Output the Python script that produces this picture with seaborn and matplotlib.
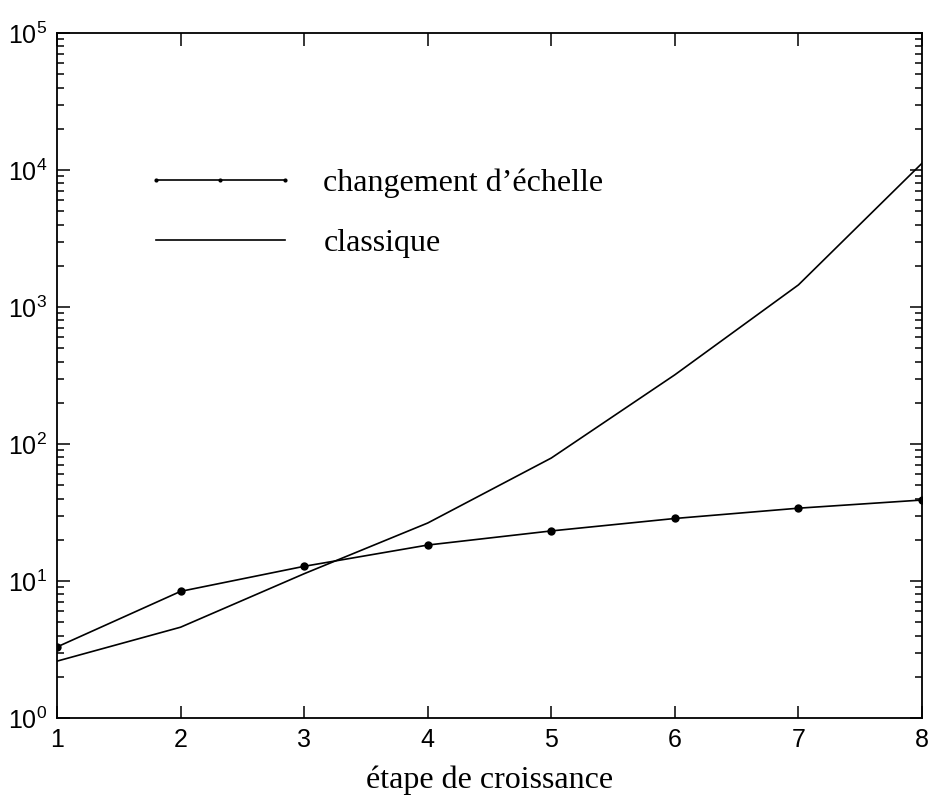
import numpy as np
import pandas as pd
import matplotlib
matplotlib.use("Agg")
import matplotlib.pyplot as plt
import matplotlib.ticker as mticker
import seaborn as sns

etapes = [1, 2, 3, 4, 5, 6, 7, 8]
changement = [3.3, 8.4, 12.8, 18.3, 23.2, 28.6, 34.0, 39.0]
classique = [2.6, 4.6, 11.3, 26.5, 79.0, 320.0, 1450.0, 11200.0]
label_changement = "changement d\u2019échelle"
label_classique = "classique"
xlabel = "étape de croissance"

plt.rcParams["mathtext.fontset"] = "custom"
plt.rcParams["mathtext.rm"] = "Liberation Sans"
plt.rcParams["mathtext.it"] = "Liberation Sans"
plt.rcParams["mathtext.bf"] = "Liberation Sans"

fig = plt.figure(figsize=(9.3, 8.01), dpi=100)
ax_w = 865
ax = fig.add_axes([57 / 930, 83 / 801, ax_w / 930, 685 / 801])

df1 = pd.DataFrame({"x": etapes, "y": changement})
df2 = pd.DataFrame({"x": etapes, "y": classique})
sns.lineplot(data=df1, x="x", y="y", ax=ax, color="black", lw=1.2,
             marker="o", markersize=6, markeredgewidth=0, label=label_changement)
sns.lineplot(data=df2, x="x", y="y", ax=ax, color="black", lw=1.2,
             label=label_classique)

ax.set_yscale("log")
ax.set_xlim(1, 8)
ax.set_ylim(1, 1e5)
ax.set_xticks(etapes)
ax.set_xticklabels([str(e) for e in etapes])
ax.yaxis.set_major_locator(mticker.LogLocator(base=10, numticks=10))
ax.yaxis.set_minor_locator(mticker.LogLocator(base=10, subs=np.arange(2, 10), numticks=20))
ax.yaxis.set_minor_formatter(mticker.NullFormatter())
ax.yaxis.set_major_formatter(mticker.LogFormatterSciNotation())

for s in ax.spines.values():
    s.set_linewidth(1.3)
ax.tick_params(which="both", direction="in", top=True, right=True, width=1.1)
ax.tick_params(which="major", length=9, labelsize=18, pad=7)
ax.tick_params(which="minor", length=5)
for lab in ax.get_xticklabels() + ax.get_yticklabels():
    lab.set_fontfamily("Liberation Sans")

ax.set_xlabel(xlabel, fontsize=23, fontfamily="Liberation Serif", labelpad=10)
ax.set_ylabel("")

leg = ax.legend(loc="upper left", bbox_to_anchor=(89 / ax_w, (718 - 169) / 685),
                frameon=False, prop={"family": "Liberation Serif", "size": 23},
                handlelength=4.65, handletextpad=0.9, labelspacing=0.95,
                numpoints=3, borderaxespad=0, borderpad=0)
for h in leg.get_lines():
    h.set_markersize(3)
    h.set_linewidth(1.2)

fig.savefig("out.png", dpi=100)
